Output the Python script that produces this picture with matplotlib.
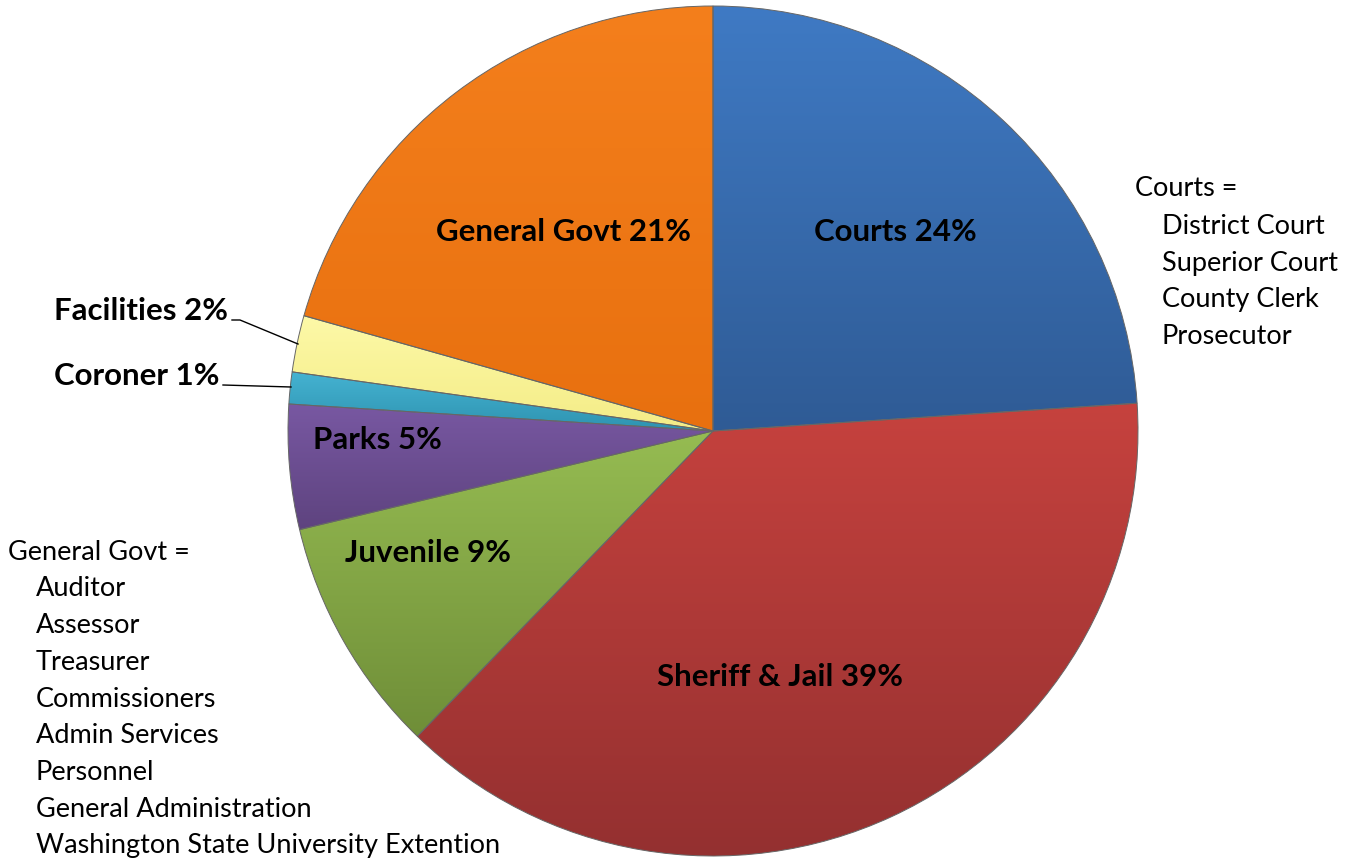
import numpy as np
import matplotlib
matplotlib.use("Agg")
import matplotlib.pyplot as plt
from matplotlib.colors import to_rgb

plt.rcParams['font.family'] = ['Lato', 'DejaVu Sans']

# budget shares (percent), clockwise from 12 o'clock
categories = ["Courts", "Sheriff & Jail", "Juvenile", "Parks", "Coroner", "Facilities", "General Govt"]
shares = [23.96, 38.29, 9.03, 4.74, 1.21, 2.15, 20.63]
pct_labels = ["24%", "39%", "9%", "5%", "1%", "2%", "21%"]

# top / bottom colour of each slice gradient
top_colors = ["#3F7AC4", "#C6423E", "#96BC52", "#7858A2", "#45B3D2", "#FDF9A8", "#F47F1C"]
bottom_colors = ["#2F5B95", "#943030", "#6F8E38", "#5E437F", "#2E93B0", "#F4EC86", "#E8700F"]

courts_list = ["District Court", "Superior Court", "County Clerk", "Prosecutor"]
govt_list = ["Auditor", "Assessor", "Treasurer", "Commissioners", "Admin Services",
             "Personnel", "General Administration", "Washington State University Extention"]

W, H = 1354, 862
fig = plt.figure(figsize=(W / 100, H / 100), dpi=100)
ax = fig.add_axes([0, 0, 1, 1])

cx, cy, r = 713, H - 432, 425

wedges, _ = ax.pie(shares, startangle=90, counterclock=False, center=(cx, cy), radius=r,
                   wedgeprops=dict(linewidth=0.7, edgecolor="#666666"), frame=True)
ax.set_xlim(0, W)
ax.set_ylim(0, H)
ax.set_aspect("equal")
ax.axis("off")

# vertical gradient fill inside each wedge
for w, c1, c2 in zip(wedges, top_colors, bottom_colors):
    ext = w.get_path().get_extents()
    t = np.linspace(0, 1, 256)[:, None]
    a, b = np.array(to_rgb(c1)), np.array(to_rgb(c2))
    grad = (a * (1 - t) + b * t)[:, None, :]
    im = ax.imshow(grad, extent=(ext.x0, ext.x1, ext.y0, ext.y1), origin="upper",
                   aspect="auto", zorder=1.1, interpolation="bilinear")
    im.set_clip_path(w)
    w.set_zorder(1.2)
    w.set_facecolor("none")

# labels inside slices
inner_pos = {"Courts": (895, 232), "Sheriff & Jail": (780, 677), "Juvenile": (428, 553),
             "Parks": (377, 440), "General Govt": (563, 232)}
for name, pct in zip(categories, pct_labels):
    if name in inner_pos:
        x, y = inner_pos[name]
        ax.text(x, H - y, f"{name} {pct}", ha="center", va="center",
                fontsize=22.5, fontweight="bold", zorder=10)

# small slices labelled outside with leader lines
ax.text(228, H - 311, "Facilities 2%", ha="right", va="center", fontsize=22.5, fontweight="bold")
ax.plot([232, 240, 298], [H - 321, H - 321, H - 345], color="black", lw=1)
ax.text(220, H - 376, "Coroner 1%", ha="right", va="center", fontsize=22.5, fontweight="bold")
ax.plot([223, 291], [H - 386, H - 388], color="black", lw=1)

# side notes
ax.text(1135, H - 189, "Courts =", ha="left", va="center", fontsize=19.5)
for i, s in enumerate(courts_list):
    ax.text(1162, H - (226 + 37 * i), s, ha="left", va="center", fontsize=19.5)

ax.text(8, H - 553, "General Govt =", ha="left", va="center", fontsize=19.5)
for i, s in enumerate(govt_list):
    ax.text(36, H - (589 + 36.7 * i), s, ha="left", va="center", fontsize=19.5)

fig.savefig("out.png", dpi=100)
